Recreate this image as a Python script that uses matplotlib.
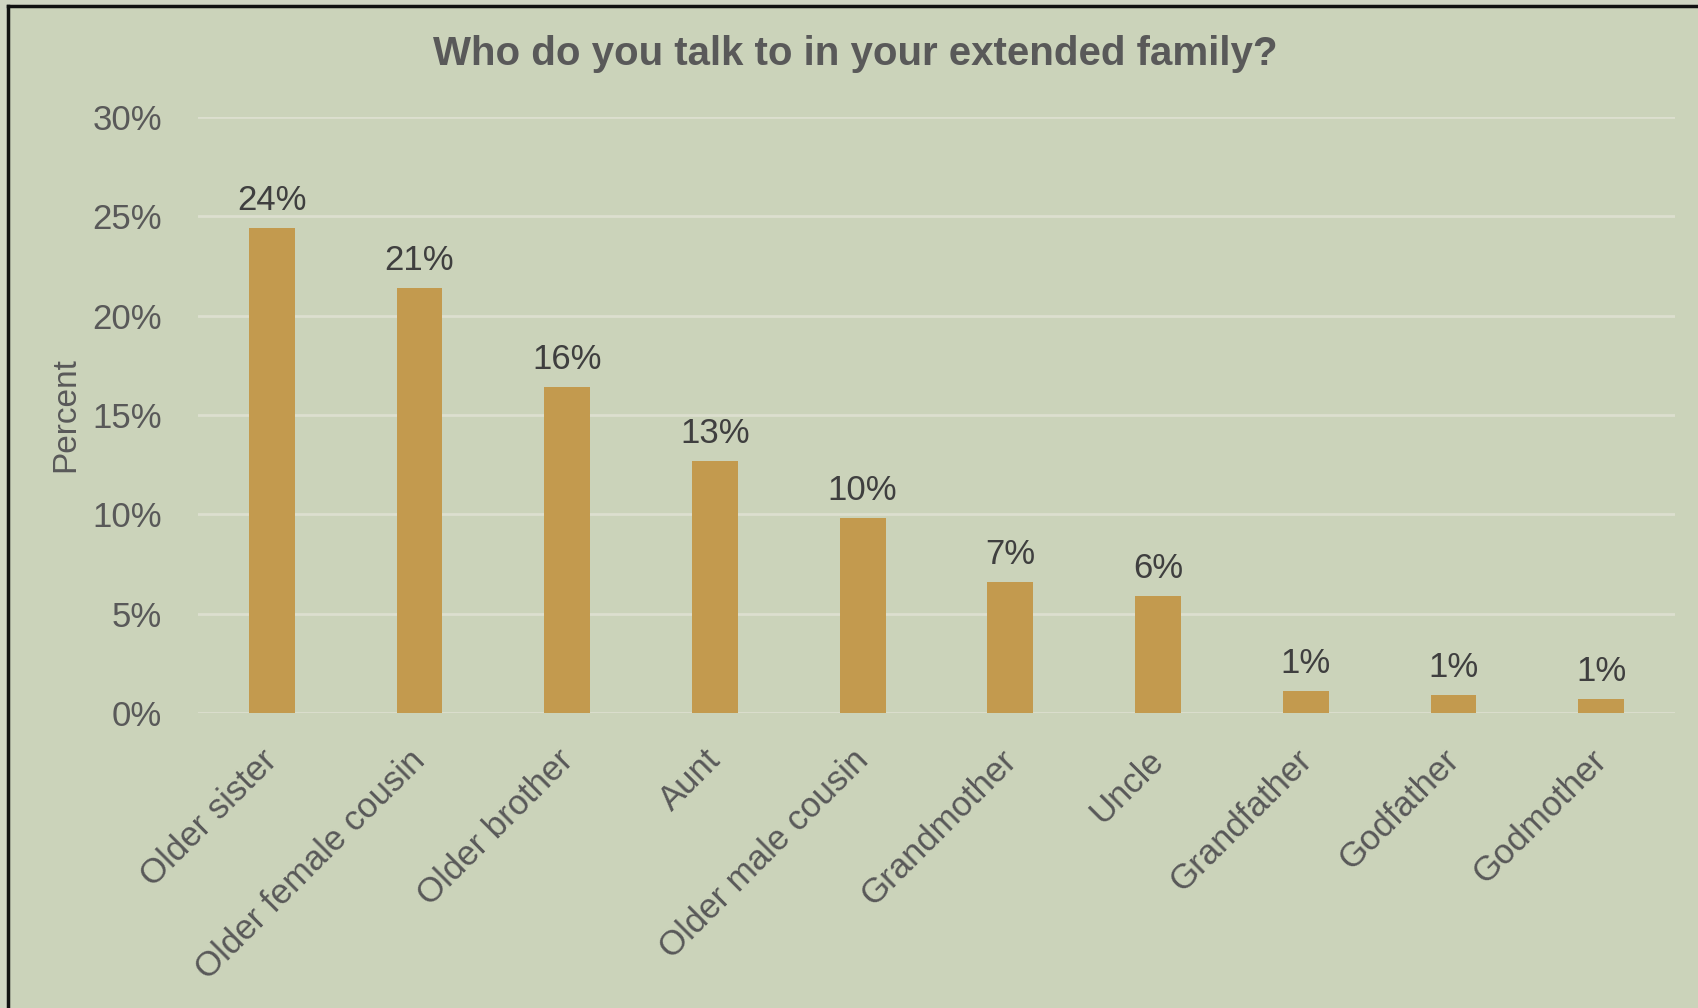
import matplotlib
matplotlib.use("Agg")
import matplotlib.pyplot as plt
from matplotlib.patches import Rectangle
from matplotlib.lines import Line2D
from matplotlib.transforms import ScaledTranslation

categories = ["Older sister", "Older female cousin", "Older brother", "Aunt",
              "Older male cousin", "Grandmother", "Uncle", "Grandfather",
              "Godfather", "Godmother"]
values = [24.4, 21.4, 16.4, 12.7, 9.8, 6.6, 5.9, 1.1, 0.9, 0.7]
yticks = [0, 5, 10, 15, 20, 25, 30]
title = "Who do you talk to in your extended family?"
ylabel = "Percent"

BG = "#CBD3BA"
BAR = "#C39A4E"
GRID = "#DCDFCF"
TICK = "#595959"
LABEL = "#3F3F3F"

plt.rcParams["font.family"] = ["Liberation Sans", "DejaVu Sans"]

W, H = 1699, 1008
fig = plt.figure(figsize=(W / 100, H / 100), dpi=100)
fig.patch.set_facecolor("#D0D5C3")
# inner panel with black top/left border
fig.patches.append(Rectangle((8 / W, 0), 1, 1 - 6 / H, transform=fig.transFigure,
                             facecolor=BG, edgecolor="none", zorder=-10))
fig.lines.append(Line2D([8 / W, 8 / W], [0, 1 - 6 / H], transform=fig.transFigure,
                        color="#111111", lw=2.5, zorder=-5))
fig.lines.append(Line2D([8 / W, 1], [1 - 6 / H, 1 - 6 / H], transform=fig.transFigure,
                        color="#111111", lw=2.5, zorder=-5))

ax = fig.add_axes([198 / W, 1 - 713.3 / H, (1675 - 198) / W, (713.3 - 116.7) / H])
ax.set_facecolor("none")
x = list(range(len(categories)))
ax.bar(x, values, width=0.31, color=BAR, zorder=3)
ax.set_xlim(-0.5, len(categories) - 0.5)
ax.set_ylim(0, 30)
ax.set_yticks(yticks)
ax.set_yticklabels([f"{t}%" for t in yticks], fontsize=25, color=TICK)
ax.yaxis.grid(True, color=GRID, lw=2, zorder=0)
ax.set_axisbelow(True)
for s in ax.spines.values():
    s.set_visible(False)
ax.tick_params(axis="y", length=0, pad=26)
ax.tick_params(axis="x", length=0, pad=16)
ax.set_xticks(x)
ax.set_xticklabels(categories, rotation=45, ha="right", va="top",
                   rotation_mode="anchor", fontsize=25, color=TICK)
shift = ScaledTranslation(-11 / 100, -8 / 100, fig.dpi_scale_trans)
for lab in ax.get_xticklabels():
    lab.set_transform(lab.get_transform() + shift)
for xi, v in zip(x, values):
    ax.annotate(f"{v:.0f}%", (xi, v), xytext=(0, 8), textcoords="offset points",
                ha="center", va="bottom", fontsize=25, color=LABEL)

ax.set_ylabel(ylabel, fontsize=24, color=TICK, labelpad=8)
fig.text(855 / W, 1 - 54 / H, title, ha="center", va="center", fontsize=29,
         fontweight="bold", color=TICK)

fig.savefig("out.png", dpi=100, facecolor=fig.get_facecolor())
